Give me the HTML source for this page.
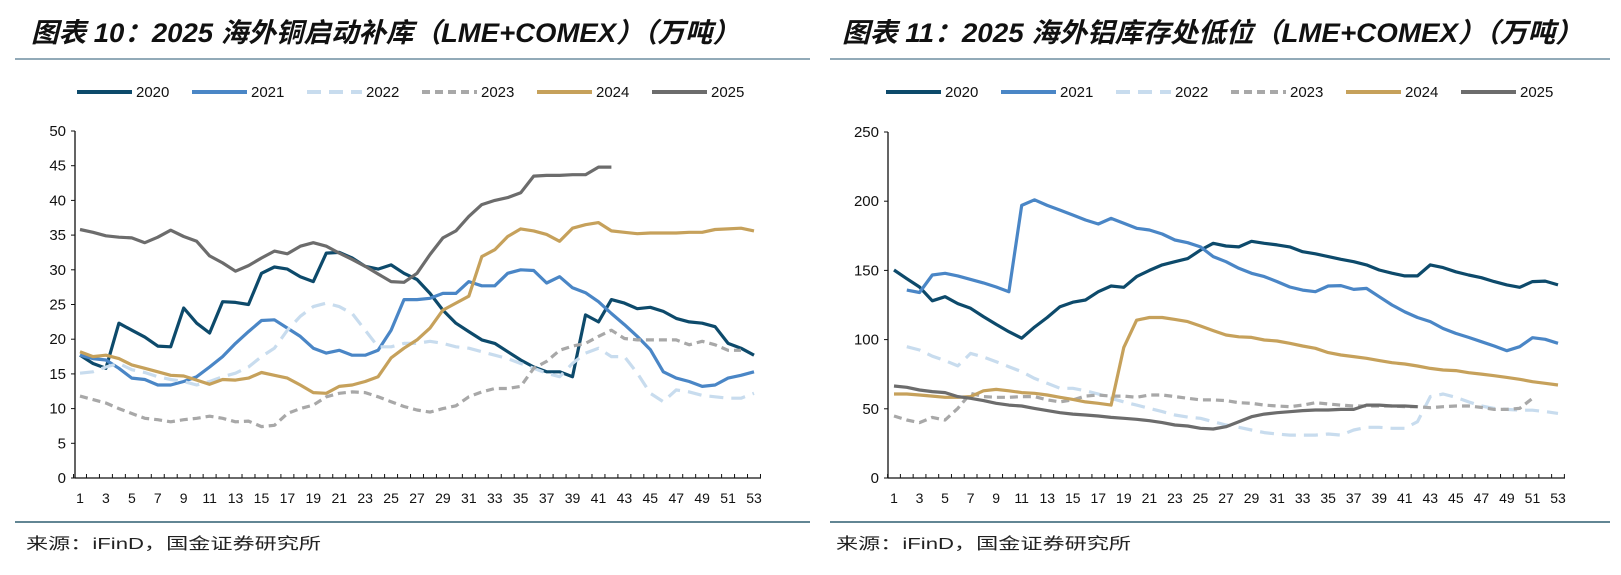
<!DOCTYPE html>
<html><head><meta charset="utf-8">
<style>
html,body{margin:0;padding:0;background:#fff;}
svg{display:block;}
text{font-family:"Liberation Sans","Noto Sans CJK SC",sans-serif;}
</style></head>
<body>
<svg id="root" width="1621" height="575" xmlns="http://www.w3.org/2000/svg">
  <rect x="0" y="0" width="1621" height="575" fill="#fff"/>
  <text x="31" y="42" font-size="27" font-weight="bold" font-style="italic" textLength="709" lengthAdjust="spacingAndGlyphs" fill="#111">图表 10：2025 海外铜启动补库（LME+COMEX）（万吨）</text>
  <text x="842" y="42" font-size="27" font-weight="bold" font-style="italic" textLength="741" lengthAdjust="spacingAndGlyphs" fill="#111">图表 11：2025 海外铝库存处低位（LME+COMEX）（万吨）</text>
  <line x1="15" y1="59" x2="810" y2="59" stroke="#6f8ea0" stroke-width="1.5"/>
  <line x1="830" y1="59" x2="1610" y2="59" stroke="#6f8ea0" stroke-width="1.5"/>
  <line x1="15" y1="522" x2="810" y2="522" stroke="#2f5f70" stroke-width="1.5"/>
  <line x1="830" y1="522" x2="1610" y2="522" stroke="#2f5f70" stroke-width="1.5"/>
  <text x="26" y="549" font-size="16" fill="#222" textLength="295" lengthAdjust="spacingAndGlyphs">来源：iFinD，国金证券研究所</text>
  <text x="836" y="549" font-size="16" fill="#222" textLength="295" lengthAdjust="spacingAndGlyphs">来源：iFinD，国金证券研究所</text>
  <g id="left"></g>
  <g id="right"></g>
</svg>
<script>
const weeks = Array.from({length:53},(_,i)=>i+1);
const seriesNames = ["2020","2021","2022","2023","2024","2025"];
const copper2020 = [17.7,16.5,15.8,22.3,21.3,20.3,19.0,18.9,24.5,22.3,20.9,25.4,25.3,25.0,29.5,30.4,30.1,29.0,28.3,32.4,32.5,31.7,30.5,30.1,30.7,29.5,28.6,26.6,24.2,22.3,21.1,19.9,19.4,18.2,17.0,16.0,15.3,15.3,14.6,23.5,22.5,25.7,25.2,24.4,24.6,24.0,23.0,22.5,22.3,21.8,19.4,18.7,17.7];
const copper2021 = [17.7,17.2,17.0,15.8,14.4,14.2,13.4,13.4,13.9,14.6,16.0,17.5,19.4,21.1,22.7,22.8,21.6,20.4,18.7,18.0,18.4,17.7,17.7,18.4,21.3,25.7,25.7,25.9,26.6,26.6,28.3,27.7,27.7,29.5,30.0,29.9,28.1,29.0,27.4,26.7,25.4,23.7,22.1,20.4,18.5,15.3,14.4,13.9,13.2,13.4,14.4,14.8,15.3];
const copper2022 = [15.1,15.3,16.0,16.5,15.6,15.2,14.6,14.2,13.9,13.4,13.9,14.6,15.1,16.0,17.5,18.7,21.3,23.3,24.7,25.2,24.7,23.7,21.3,18.9,18.9,19.4,19.4,19.7,19.4,18.9,18.7,18.2,17.7,17.2,16.5,15.8,15.1,14.6,16.5,18.0,18.7,17.5,17.5,15.1,12.2,11.0,12.7,12.4,11.9,11.7,11.5,11.5,12.2];
const copper2023 = [11.8,11.3,10.8,10.0,9.3,8.6,8.4,8.1,8.4,8.6,8.9,8.6,8.1,8.2,7.4,7.6,9.3,10.0,10.5,11.7,12.2,12.4,12.3,11.7,11.0,10.3,9.8,9.5,10.0,10.4,11.7,12.4,12.9,12.9,13.2,15.8,16.8,18.4,19.0,19.4,20.4,21.3,20.1,19.9,19.9,19.9,19.9,19.2,19.7,19.2,18.4,18.4,null];
const copper2024 = [18.2,17.5,17.7,17.2,16.3,15.8,15.3,14.8,14.7,14.1,13.5,14.2,14.1,14.4,15.2,14.8,14.4,13.4,12.3,12.2,13.2,13.4,13.9,14.6,17.3,18.7,19.9,21.6,24.2,25.2,26.2,31.9,32.9,34.8,35.9,35.6,35.1,34.1,36.0,36.5,36.8,35.6,35.4,35.2,35.3,35.3,35.3,35.4,35.4,35.8,35.9,36.0,35.6];
const copper2025 = [35.8,35.4,34.9,34.7,34.6,33.9,34.7,35.7,34.8,34.1,32.0,31.0,29.8,30.6,31.7,32.7,32.3,33.4,33.9,33.4,32.4,31.5,30.5,29.4,28.3,28.2,29.5,32.2,34.6,35.6,37.7,39.4,40.0,40.4,41.1,43.5,43.6,43.6,43.7,43.7,44.8,44.8];
const al2020 = [150.3,144,138,128,131,126,122.6,116.6,111,105.7,101,109,116,123.8,127,128.6,134.6,138.7,137.8,145.5,150,154,156.3,158.5,164.7,169.6,167.6,167,171,169.6,168.4,167,163.5,162,160,158,156.3,154,150.3,148,146,146,154,152,149,146.7,144.7,141.9,139.5,137.8,141.9,142.3,139.5];
const al2021 = [null,135.8,134,146.7,147.9,146,143.5,141,138,134.6,197,201,197,193.6,190,186.4,183.5,187.6,184,180.4,179.2,176.3,172,170,167,160,156.3,151.5,147.9,145.5,141.9,138,135.8,134.6,138.7,139,136.3,137,131,125,120,116,113,108,104.5,101.6,98.5,95.4,92,94.9,101.4,100.2,97.3];
const al2022 = [null,94.9,92.5,88,84.8,81,90,87.4,84,80.4,76.8,72,68.4,64.8,64.8,63,60.7,57.6,55,52.7,50.3,48,45.5,44,43.1,40.7,38.3,36.6,34.7,32.8,31.8,31,31,31,31.8,31,34.7,36.6,36.6,35.9,35.9,40.7,58.8,60.7,58.3,55,52,50.3,49.6,49,49,48,46.7];
const al2023 = [44.8,41.9,40,43.8,41.9,50.3,61.2,58.8,58.3,58.3,58.8,58.8,56.4,55,56.4,59.2,60,59.2,59.2,58.3,60,60,58.8,57.6,56.4,56.4,55.9,54.4,54,52.7,52,51.5,52.7,54.4,53.5,52.7,52,52,52,52,51.5,51.5,50.8,51.5,52,52,51,49.6,49.6,50.3,57.6,null,null];
const al2024 = [60.7,60.7,60,59.2,58.3,58.3,58.8,63,64,63,61.7,61.2,60,58.3,56.8,55,54,52.7,94.4,114,116,116,114.6,113,109.8,106.5,103.3,102,101.6,99.7,99,97.3,95.4,93.7,90.6,88.9,87.7,86.5,84.8,83.3,82.4,80.9,79.2,78,77.6,76.1,75.1,73.9,72.7,71.3,69.6,68.4,67.2];
const al2025 = [66.5,65.5,63.6,62.4,61.7,58.8,57.6,55.9,54,52.7,52,50.3,48.7,47.2,46.2,45.5,44.8,43.8,43.1,42.4,41.4,40,38.3,37.6,35.9,35.4,37.1,40.7,44.3,46.2,47.2,47.9,48.7,49.1,49.1,49.6,49.6,52.7,52.7,52,52,51.5];
const copperTicks = [0,5,10,15,20,25,30,35,40,45,50];
const alTicks = [0,50,100,150,200,250];

const NS="http://www.w3.org/2000/svg";
const styles=[
 {c:"#0d4a6b",d:null},{c:"#4a86c6",d:null},{c:"#c8dcee",d:"14 8"},
 {c:"#a8a8a8",d:"8 5"},{c:"#c6a15b",d:null},{c:"#6c6c6c",d:null}];
function mk(tag,attrs,parent){const e=document.createElementNS(NS,tag);for(const k in attrs)e.setAttribute(k,attrs[k]);parent.appendChild(e);return e;}

function drawChart(g,prefix,cfg,data,ticks){
  const xS=w=>cfg.x1+(w-1)*(cfg.x53-cfg.x1)/52;
  const yS=v=>cfg.y0-v*(cfg.y0-cfg.yTop)/cfg.max;
  // legend
  let lx=cfg.legX;
  seriesNames.forEach((n,i)=>{
    const ln=mk("line",{x1:lx,y1:92,x2:lx+55,y2:92,stroke:styles[i].c,"stroke-width":4},g);
    if(styles[i].d) ln.setAttribute("stroke-dasharray",styles[i].d);
    
    
    const t=mk("text",{x:lx+59,y:97,"font-size":15,fill:"#111"},g);
    t.textContent=n;
    
    
    lx+=cfg.legStep;
  });
  // axes
  const ya=mk("line",{x1:cfg.ax,y1:cfg.yTop,x2:cfg.ax,y2:cfg.y0,stroke:"#111","stroke-width":1.3},g);
  
  
  const xa=mk("line",{x1:cfg.ax,y1:cfg.y0,x2:cfg.x53+7,y2:cfg.y0,stroke:"#111","stroke-width":1.3},g);
  
  
  ticks.forEach(v=>{
    const y=yS(v);
    const tk=mk("line",{x1:cfg.ax-4,y1:y,x2:cfg.ax,y2:y,stroke:"#111","stroke-width":1},g);
    
    
    const t=mk("text",{x:cfg.ax-9,y:y+5,"font-size":15,"text-anchor":"end",fill:"#111"},g);
    t.textContent=v;
    
    
  });
  const step=(cfg.x53-cfg.x1)/52;
  for(let w=0;w<=53;w++){
    const x=xS(w)+step/2;
    const tk=mk("line",{x1:x,y1:cfg.y0-4,x2:x,y2:cfg.y0,stroke:"#111","stroke-width":1},g);
    
    
  }
  weeks.filter(w=>w%2===1).forEach(w=>{
    const t=mk("text",{x:xS(w),y:cfg.y0+25,"font-size":14,"text-anchor":"middle",fill:"#111"},g);
    t.textContent=w;
    
    
  });
  data.forEach((arr,i)=>{
    let d="",pen=false;
    arr.forEach((v,k)=>{
      if(v===null||v===undefined){pen=false;return;}
      d+=(pen?"L":"M")+xS(k+1).toFixed(1)+","+yS(v).toFixed(1);pen=true;
    });
    const p=mk("path",{d:d,fill:"none",stroke:styles[i].c,"stroke-width":3.2,"stroke-linejoin":"round"},g);
    if(styles[i].d) p.setAttribute("stroke-dasharray",styles[i].d);
    
    
  });
}
drawChart(document.getElementById("left"),"copper",
 {ax:75,x1:80,x53:754,y0:478,yTop:131,max:50,legX:77,legStep:115},
 [copper2020,copper2021,copper2022,copper2023,copper2024,copper2025],copperTicks);
drawChart(document.getElementById("right"),"aluminum",
 {ax:888,x1:894,x53:1558,y0:478,yTop:132,max:250,legX:886,legStep:115},
 [al2020,al2021,al2022,al2023,al2024,al2025],alTicks);
</script>
</body></html>
